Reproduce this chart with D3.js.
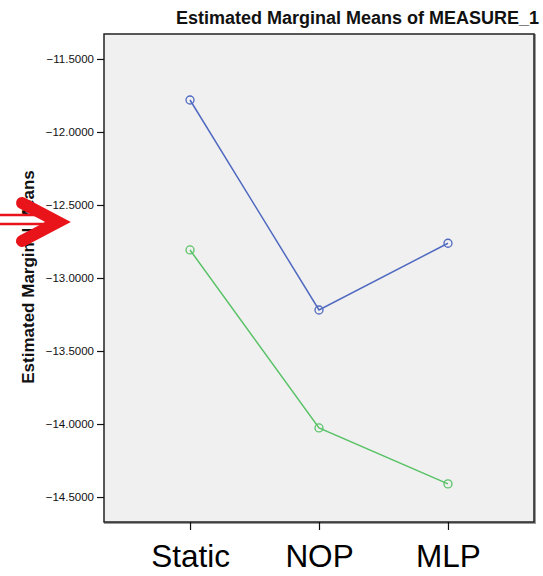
<!DOCTYPE html>
<html>
<head>
<meta charset="utf-8">
<script src="https://cdn.jsdelivr.net/npm/d3@7/dist/d3.min.js"></script>
<style>
  html, body { margin: 0; padding: 0; background: #fff; }
  svg { display: block; font-family: "Liberation Sans", Arial, sans-serif; }
</style>
</head>
<body>
<svg id="chart" width="543" height="576"></svg>
<script>
// Estimated marginal means per condition, two groups
const categories = ["Static", "NOP", "MLP"];
const seriesBlue = [-11.781, -13.219, -12.762];
const seriesGreen = [-12.808, -14.027, -14.410];
const yTicks = [-11.5, -12.0, -12.5, -13.0, -13.5, -14.0, -14.5];

const svg = d3.select("#chart");
const frame = { left: 104, top: 34, right: 534, bottom: 522 };

const x = d3.scalePoint()
  .domain(categories)
  .range([frame.left, frame.right])
  .padding(0.667);

const y = d3.scaleLinear()
  .domain([-11.329, -14.671])
  .range([frame.top, frame.bottom]);

// Title
svg.append("text")
  .attr("x", 539).attr("y", 24)
  .attr("text-anchor", "end")
  .attr("font-size", 18).attr("font-weight", "bold")
  .attr("fill", "#111")
  .text("Estimated Marginal Means of MEASURE_1");

// Plot background with shadowed frame
svg.append("rect")
  .attr("x", frame.left + 1).attr("y", frame.top + 1)
  .attr("width", frame.right - frame.left).attr("height", frame.bottom - frame.top)
  .attr("fill", "none").attr("stroke", "#9a9a9a").attr("stroke-width", 2);
svg.append("rect")
  .attr("x", frame.left).attr("y", frame.top)
  .attr("width", frame.right - frame.left).attr("height", frame.bottom - frame.top)
  .attr("fill", "#f0f0f0").attr("stroke", "#222").attr("stroke-width", 1.5);

// Y axis
const yAxis = d3.axisLeft(y)
  .tickValues(yTicks)
  .tickSize(7)
  .tickPadding(3)
  .tickFormat(d3.format(".4f"));
const gy = svg.append("g")
  .attr("transform", `translate(${frame.left},0)`)
  .call(yAxis);
gy.select(".domain").remove();
gy.selectAll(".tick line").attr("stroke", "#111").attr("stroke-width", 1.2);
gy.selectAll(".tick text")
  .attr("font-size", 11.5).attr("fill", "#111")
  .attr("font-family", "'Liberation Sans', Arial, sans-serif");

// X axis
const xAxis = d3.axisBottom(x).tickSize(8).tickPadding(15);
const gx = svg.append("g")
  .attr("transform", `translate(0,${frame.bottom})`)
  .call(xAxis);
gx.select(".domain").remove();
gx.selectAll(".tick line").attr("stroke", "#111").attr("stroke-width", 1.2);
gx.selectAll(".tick text")
  .attr("font-size", 31.5).attr("fill", "#000")
  .attr("font-family", "'Liberation Sans', Arial, sans-serif");

// Y axis title
svg.append("text")
  .attr("transform", `translate(34,277) rotate(-90)`)
  .attr("text-anchor", "middle")
  .attr("font-size", 17).attr("font-weight", "bold")
  .attr("fill", "#111")
  .text("Estimated Marginal Means");

// Series lines and open markers
const series = [
  { values: seriesBlue, color: "#5069c0" },
  { values: seriesGreen, color: "#58c266" }
];
const line = d3.line()
  .x((d, i) => x(categories[i]))
  .y(d => y(d));

series.forEach(s => {
  svg.append("path")
    .datum(s.values)
    .attr("d", line)
    .attr("fill", "none")
    .attr("stroke", s.color)
    .attr("stroke-width", 1.5);
  svg.selectAll(null)
    .data(s.values)
    .enter().append("circle")
    .attr("cx", (d, i) => x(categories[i]))
    .attr("cy", d => y(d))
    .attr("r", 4)
    .attr("fill", "none")
    .attr("stroke", s.color)
    .attr("stroke-width", 1.3);
});

// Red pointer arrow at the left edge
const arrow = svg.append("g");
arrow.append("rect")
  .attr("x", -6).attr("y", 215)
  .attr("width", 52).attr("height", 9)
  .attr("fill", "#fff").attr("stroke", "#e8141a").attr("stroke-width", 2.5);
arrow.append("path")
  .attr("d", "M22,203 L58,222 L22,241")
  .attr("fill", "none")
  .attr("stroke", "#e8141a")
  .attr("stroke-width", 12)
  .attr("stroke-linecap", "round")
  .attr("stroke-linejoin", "miter");
</script>
</body>
</html>
